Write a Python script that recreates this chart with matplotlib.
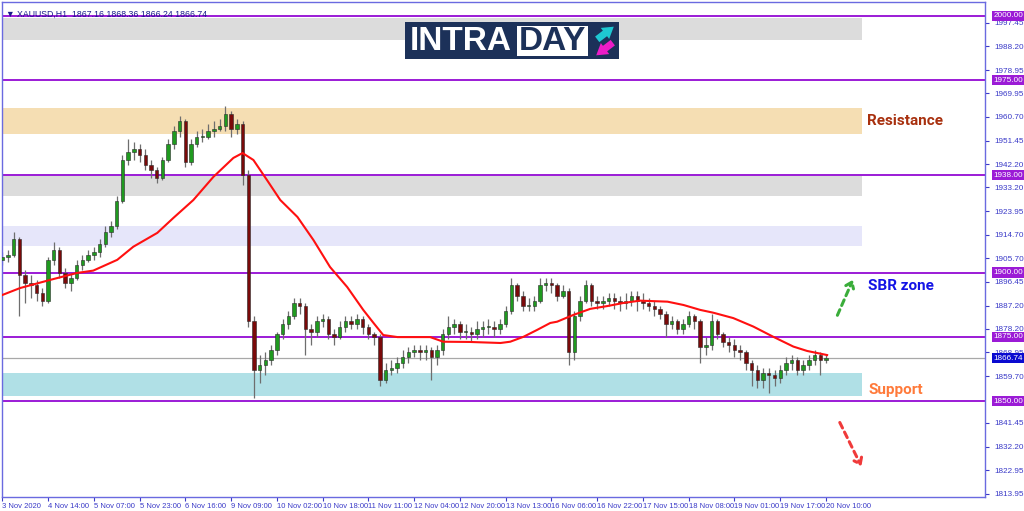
import matplotlib
matplotlib.use("Agg")
import matplotlib.pyplot as plt
from matplotlib.patches import Rectangle, FancyArrowPatch

# 2-hour candles, XAUUSD (closes)
closes = [1906,1907,1913,1899,1896,1895,1892,1889,1905,1909,
          1900,1896,1898,1903,1905,1907,1908,1911,1916,1918,
          1928,1944,1947,1948,1946,1942,1940,1937,1944,1950,
          1955,1959,1943,1950,1953,1953,1955,1956,1957,1962,
          1956,1958,1938,1881,1862,1864,1866,1870,1876,1880,
          1883,1888,1887,1878,1877,1881,1882,1876,1875,1879,
          1881,1880,1882,1879,1876,1875,1858,1862,1863,1865,
          1867,1869,1870,1869,1870,1867,1870,1876,1879,1880,
          1877,1877,1876,1878,1879,1879,1878,1880,1885,1895,
          1891,1887,1887,1889,1895,1896,1895,1891,1893,1869,
          1883,1889,1895,1889,1888,1889,1890,1889,1888,1889,
          1891,1889,1888,1887,1886,1884,1880,1881,1878,1880,
          1883,1881,1871,1872,1881,1876,1873,1872,1870,1869,
          1865,1862,1858,1861,1860,1859,1862,1865,1866,1862,
          1864,1866,1868,1866,1866.74]
highs = [1908,1909,1916,1914,1901,1899,1897,1894,1906,1912,
         1910,1902,1900,1905,1907,1909,1910,1913,1918,1920,
         1930,1946,1952,1951,1950,1948,1944,1941,1945,1952,
         1957,1961,1960,1952,1955,1956,1958,1959,1960,1965,
         1963,1960,1959,1940,1883,1868,1869,1872,1877,1882,
         1885,1890,1890,1888,1880,1883,1884,1883,1878,1881,
         1883,1883,1884,1883,1880,1877,1876,1865,1866,1867,
         1870,1871,1872,1872,1872,1871,1872,1878,1883,1882,
         1881,1880,1879,1881,1881,1882,1881,1882,1887,1898,
         1896,1893,1890,1891,1898,1898,1898,1896,1895,1894,
         1885,1891,1897,1896,1891,1891,1892,1892,1891,1892,
         1893,1893,1892,1890,1889,1887,1885,1883,1882,1882,
         1885,1884,1882,1875,1884,1882,1877,1875,1874,1872,
         1870,1866,1864,1863,1863,1862,1864,1867,1868,1867,
         1866,1868,1870,1869,1868.36]
lows = [1903,1904,1906,1883,1888,1890,1889,1887,1888,1903,
        1898,1894,1893,1897,1901,1904,1905,1906,1910,1914,
        1917,1927,1942,1944,1943,1940,1937,1935,1936,1943,
        1948,1953,1941,1942,1949,1951,1952,1953,1955,1955,
        1953,1954,1934,1879,1851,1857,1860,1864,1868,1874,
        1878,1882,1884,1868,1872,1875,1879,1874,1872,1874,
        1877,1878,1878,1876,1874,1872,1856,1857,1860,1861,
        1863,1865,1867,1866,1866,1858,1864,1868,1874,1876,
        1874,1874,1873,1874,1875,1876,1875,1876,1879,1884,
        1889,1885,1885,1885,1888,1893,1892,1889,1890,1864,
        1866,1881,1888,1887,1886,1886,1887,1886,1885,1886,
        1887,1885,1886,1885,1883,1882,1875,1878,1876,1876,
        1879,1878,1865,1868,1870,1874,1871,1869,1867,1866,
        1862,1856,1855,1855,1853,1856,1857,1860,1862,1860,
        1860,1862,1864,1860,1865]
first_open = 1905

# moving average line (candle index, value)
ma_idx = [0,3.1,8.4,13.1,15.9,20.1,22.9,27.1,29.9,33.4,36.9,40.4,42,43.9,46.3,
          48.6,51.6,54.4,57.3,60.3,63.1,64.9,66.6,69.1,74.8,77.1,81.8,87.1,88.8,
          91.1,93.5,95.8,97,99.8,102.8,105.8,108.6,111.5,116.3,119.1,122,124.3,
          127.8,131.3,134.8,138.3,140.7,144.2]
ma_val = [1891.3,1894,1897.2,1899.9,1900.8,1905,1910.1,1915.5,1921.3,1928.3,1937.3,
          1944.7,1946.6,1943.9,1936,1928.3,1921.7,1912.7,1902.2,1894.4,1885.5,
          1880.4,1875.7,1874.9,1874.9,1873.1,1873,1872.6,1873.1,1875,1877.7,1880.4,
          1880.9,1883.5,1885.9,1887,1888.2,1889.1,1888.7,1887.4,1885.5,1884.4,
          1882.3,1879,1875,1871.2,1869.5,1867.9]

xtick_labels = ["3 Nov 2020","4 Nov 14:00","5 Nov 07:00","5 Nov 23:00","6 Nov 16:00",
                "9 Nov 09:00","10 Nov 02:00","10 Nov 18:00","11 Nov 11:00","12 Nov 04:00",
                "12 Nov 20:00","13 Nov 13:00","16 Nov 06:00","16 Nov 22:00","17 Nov 15:00",
                "18 Nov 08:00","19 Nov 01:00","19 Nov 17:00","20 Nov 10:00"]
ytick_vals = [1997.45,1988.20,1978.95,1969.95,1960.70,1951.45,1942.20,1933.20,1923.95,
              1914.70,1905.70,1896.45,1887.20,1878.20,1868.95,1859.70,1841.45,1832.20,
              1822.95,1813.95]

levels = [2000.00,1975.00,1938.00,1900.00,1875.00,1850.00]
last_price = 1866.74

zone_lo = [1990.6,1954.0,1929.9,1910.4,1852.0]
zone_hi = [1999.2,1964.2,1937.7,1918.2,1860.9]
zone_col = ['#dcdcdc','#f5deb3','#dcdcdc','#e6e6fa','#b0e0e6']

axis_col = '#3a3ac8'
small = 'Liberation Sans'

fig = plt.figure(figsize=(10.24, 5.11), dpi=100)
ax = fig.add_axes([2/1024, 1-497/511, 983/1024, 495/511])
ax.set_xlim(-0.05, 171.8)
ax.set_ylim(1812.6, 2005.45)

# zones
for lo, hi, col in zip(zone_lo, zone_hi, zone_col):
    ax.add_patch(Rectangle((-1, lo), 151.3, hi-lo, facecolor=col, edgecolor='none', zorder=0))

# levels
for lv in levels:
    ax.axhline(lv, color='#9b1bd6', lw=1.4, zorder=1)
    ax.text(1.0085, lv, f'{lv:.2f}', transform=ax.get_yaxis_transform(), ha='left', va='center',
            fontsize=5.9, color='white', family=small,
            bbox=dict(facecolor='#9b1bd6', edgecolor='none', pad=1.3), zorder=5, clip_on=False)
ax.axhline(last_price, color='#a8a8a8', lw=0.9, zorder=1)
ax.text(1.0085, last_price, f'{last_price:.2f}', transform=ax.get_yaxis_transform(), ha='left',
        va='center', fontsize=5.9, color='white', family=small,
        bbox=dict(facecolor='#0a0ad0', edgecolor='none', pad=1.3), zorder=5, clip_on=False)

# candles
opens = [first_open] + closes[:-1]
idx = list(range(len(closes)))
ax.vlines(idx, lows, highs, color='#6e6e6e', lw=0.9, zorder=2)
for i, o, c in zip(idx, opens, closes):
    col = '#1f9a1f' if c >= o else '#7a0a0a'
    h = abs(c - o) if abs(c - o) > 0.3 else 0.3
    ax.bar(i, h, bottom=min(o, c), width=0.6, color=col, edgecolor='#2a2a2a', lw=0.4, zorder=3)

# moving average
ax.plot(ma_idx, ma_val, color='#ff1010', lw=1.5, zorder=4)

# annotations
ax.text(151.2, 1959.1, 'Resistance', fontsize=11, fontweight='bold', color='#a8300e',
        family='Roboto', va='center', ha='left')
ax.text(151.4, 1894.8, 'SBR zone', fontsize=11, fontweight='bold', color='#1414e6',
        family='Roboto', va='center', ha='left')
ax.text(151.4, 1854.3, 'Support', fontsize=11, fontweight='bold', color='#ff7a3a',
        family='Roboto', va='center', ha='left')
ax.add_patch(FancyArrowPatch((145.8, 1882.4), (148.9, 1898.2), arrowstyle='->,head_length=4,head_width=3',
                             color='#3aad3a', lw=2.2, linestyle=(0, (2, 1.5)), zorder=6))
ax.add_patch(FancyArrowPatch((146.2, 1842.6), (150.4, 1823.6), arrowstyle='->,head_length=4,head_width=3',
                             color='#f03a3a', lw=2.2, linestyle=(0, (2, 1.5)), zorder=6))

# header
ax.text(0.004, 0.985, '\u25bc XAUUSD,H1  1867.16 1868.36 1866.24 1866.74', transform=ax.transAxes,
        fontsize=6.3, color='#1a1a8c', va='top', ha='left', family=['Liberation Sans', 'DejaVu Sans'])

# axes styling
ax.yaxis.tick_right()
ax.set_yticks(ytick_vals)
ax.set_yticklabels([f'{v:.2f}' for v in ytick_vals], family=small, fontsize=5.9)
ax.set_xticks(list(range(0, 145, 8)))
ax.set_xticklabels(xtick_labels, family=small, fontsize=5.5)
for lab in ax.get_xticklabels():
    lab.set_ha('left')
ax.tick_params(axis='both', direction='out', length=3, width=0.8, colors=axis_col, pad=1.5)
ax.tick_params(axis='y', pad=3.5)
for sp in ax.spines.values():
    sp.set_color('#6a6ae0')
    sp.set_linewidth(1.0)

# logo
lg = fig.add_axes([405/1024, 1-59/511, 214/1024, 37/511])
lg.set_xlim(0, 214)
lg.set_ylim(37, 0)
lg.axis('off')
lg.add_patch(Rectangle((0, 0), 214, 37, facecolor='#1c3159', edgecolor='none'))
lg.add_patch(Rectangle((112, 3.5), 71, 30, facecolor='white', edgecolor='none'))
lg.text(5, 19, 'INTRA', color='white', fontsize=24, fontweight='bold', family='Liberation Sans',
        va='center', ha='left')
lg.text(147.5, 19, 'DAY', color='#1c3159', fontsize=24, fontweight='bold', family='Liberation Sans',
        va='center', ha='center')
lg.add_patch(FancyArrowPatch((190, 19), (211, 3), arrowstyle='simple,head_length=8,head_width=10,tail_width=5',
                             color='#1ec8d2', lw=0))
lg.add_patch(FancyArrowPatch((210, 19), (189, 35), arrowstyle='simple,head_length=8,head_width=10,tail_width=5',
                             color='#ec1cc8', lw=0))

fig.savefig('out.png', dpi=100)
